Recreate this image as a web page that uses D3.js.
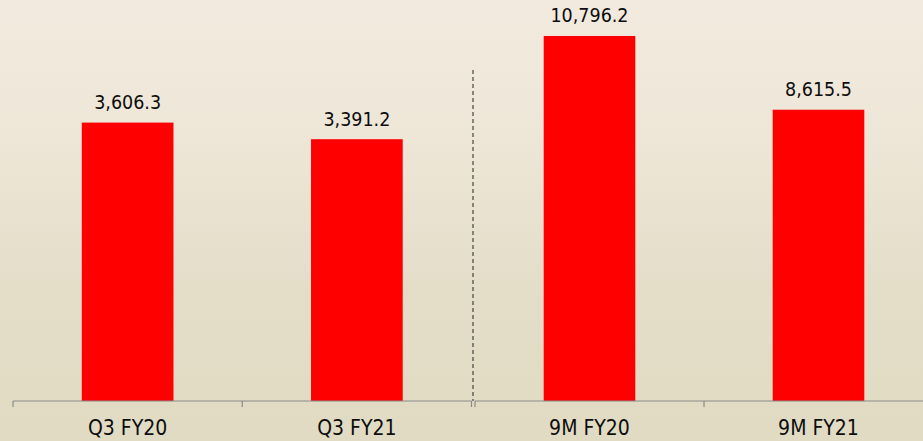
<!DOCTYPE html>
<html>
<head>
<meta charset="utf-8">
<script src="https://cdn.jsdelivr.net/npm/d3@7"></script>
<style>
html,body{margin:0;padding:0;overflow:hidden;}
svg{display:block;}
</style>
</head>
<body>
<svg id="chart" width="923" height="441"></svg>
<script>
const leftCategories = ["Q3 FY20", "Q3 FY21"];
const leftValues = [3606.3, 3391.2];
const rightCategories = ["9M FY20", "9M FY21"];
const rightValues = [10796.2, 8615.5];
const leftMax = 4000;
const rightMax = 11000;

const W = 923, H = 441;
const svg = d3.select("#chart");
const defs = svg.append("defs");
const grad = defs.append("linearGradient").attr("id","bg").attr("x1",0).attr("y1",0).attr("x2",0).attr("y2",1);
[["0%","#f3eadf"],["30%","#eee7d8"],["65%","#e4ddc8"],["100%","#e2dbc3"]].forEach(s=>grad.append("stop").attr("offset",s[0]).attr("stop-color",s[1]));
svg.append("rect").attr("width",W).attr("height",H).attr("fill","url(#bg)");

const baseY = 401;
const font = "'DejaVu Sans Condensed','DejaVu Sans',sans-serif";
const fmt = d3.format(",.1f");

function panel(cats, vals, x0, x1, maxV, pxPerUnit) {
  const x = d3.scaleBand().domain(cats).range([x0, x1]).paddingInner(0.6).paddingOuter(0.3);
  const y = d3.scaleLinear().domain([0, maxV]).range([baseY, baseY - maxV * pxPerUnit]);
  const g = svg.append("g");
  g.selectAll("rect.bar").data(cats).enter().append("rect")
    .attr("class","bar")
    .attr("x", d => x(d))
    .attr("width", x.bandwidth())
    .attr("y", (d,i) => y(vals[i]))
    .attr("height", (d,i) => baseY - y(vals[i]))
    .attr("fill", "#ff0000");
  g.selectAll("text.val").data(cats).enter().append("text")
    .attr("class","val")
    .attr("x", d => x(d) + x.bandwidth()/2)
    .attr("y", (d,i) => y(vals[i]) - 13.5)
    .attr("text-anchor","middle")
    .attr("font-family", font)
    .attr("font-size", 19.5)
    .attr("fill", "#0d0d0d")
    .text((d,i) => fmt(vals[i]));
  const ax = g.append("g").attr("transform", `translate(0,${baseY})`);
  ax.append("line").attr("x1", x0).attr("x2", x1).attr("y1",0).attr("y2",0)
    .attr("stroke","#8a8a8a").attr("stroke-width",1.2);
  const step = (x1 - x0) / cats.length;
  d3.range(cats.length + 1).forEach(i => {
    ax.append("line").attr("x1", x0 + i*step).attr("x2", x0 + i*step).attr("y1",0).attr("y2",6)
      .attr("stroke","#8a8a8a").attr("stroke-width",1.2);
  });
  ax.selectAll("text.cat").data(cats).enter().append("text")
    .attr("class","cat")
    .attr("x", d => x(d) + x.bandwidth()/2)
    .attr("y", 34)
    .attr("text-anchor","middle")
    .attr("font-family", font)
    .attr("font-size", 21)
    .attr("fill", "#0d0d0d")
    .text(d => d);
}

panel(leftCategories, leftValues, 13, 471.5, leftMax, 0.0772);
panel(rightCategories, rightValues, 475, 933, rightMax, 0.03381);

svg.append("line").attr("x1",473).attr("x2",473).attr("y1",70).attr("y2",401)
  .attr("stroke","#222").attr("stroke-width",1).attr("stroke-dasharray","4,3");
</script>
</body>
</html>
